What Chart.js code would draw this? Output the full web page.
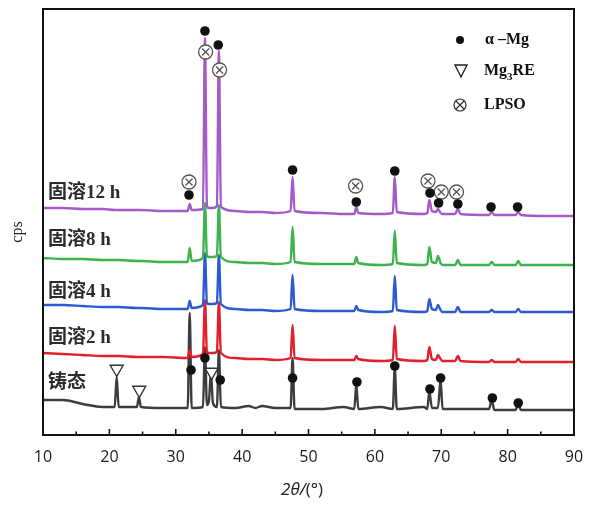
<!DOCTYPE html>
<html>
<head>
<meta charset="utf-8">
<script src="https://cdn.jsdelivr.net/npm/chart.js@4/dist/chart.umd.min.js"></script>
<style>
  html, body { margin: 0; padding: 0; background: #fff; }
  #wrap { width: 605px; height: 507px; }
</style>
</head>
<body>
<div id="wrap"><canvas id="xrd" width="605" height="507"></canvas></div>
<script>
// 2theta sampling points, shared by all curves
const twoTheta = [10, 13, 16, 19, 20.8, 21.1, 21.4, 24.15, 24.45, 24.75, 28, 31.8, 32.1, 32.4,
  34.1, 34.4, 34.7, 35.0, 35.3, 35.6, 36.2, 36.5, 36.8, 39, 41, 42, 43, 45, 47.3, 47.6, 47.9,
  52, 55.3, 56.9, 57.2, 57.5, 60.9, 62.7, 63.0, 63.3, 67.4, 67.9, 68.2, 68.6, 69.2, 69.5,
  69.9, 70.2, 72.1, 72.5, 72.9, 77.2, 77.6, 78.0, 81.2, 81.6, 82.0, 86, 90];

// intensities (cps, curves already offset as in the figure)
const h12 = [227, 227, 226, 226, 225, 225, 225, 225, 225, 225, 224, 224, 231, 225,
  226, 397, 229, 227, 227, 227, 229, 384, 228, 224, 223, 223, 223, 222, 224, 258, 224,
  222, 221, 221, 228, 222, 221, 222, 258, 223, 221, 222, 235, 224, 223, 226,
  222, 221, 221, 226, 221, 220, 223, 220, 220, 223, 220, 219, 219];
const h8 = [177, 176, 176, 175, 175, 175, 175, 174, 174, 174, 173, 173, 187, 174,
  177, 232, 179, 178, 178, 178, 179, 230, 178, 173, 172, 172, 172, 171, 173, 208, 173,
  171, 171, 171, 178, 172, 170, 171, 204, 172, 170, 171, 188, 173, 172, 179,
  172, 170, 170, 175, 170, 170, 173, 170, 170, 174, 170, 170, 170];
const h4 = [130, 130, 129, 128, 128, 128, 128, 127, 127, 127, 126, 126, 134, 127,
  130, 182, 132, 131, 131, 131, 132, 180, 131, 126, 125, 125, 125, 124, 126, 160, 126,
  124, 124, 124, 129, 125, 123, 124, 159, 125, 123, 124, 136, 126, 125, 130,
  125, 123, 123, 128, 123, 123, 125, 123, 123, 126, 123, 123, 123];
const h2 = [82, 81, 80, 79, 79, 79, 79, 78, 78, 78, 78, 77, 85, 78,
  81, 135, 83, 82, 82, 82, 83, 133, 82, 77, 76, 76, 76, 75, 77, 110, 77,
  75, 75, 75, 79, 76, 74, 75, 109, 76, 74, 75, 88, 76, 75, 80,
  76, 74, 74, 79, 74, 73, 75, 73, 73, 76, 73, 73, 73];
const asCast = [35, 35, 31, 28, 28, 58, 28, 28, 38, 28, 27, 27, 122, 27,
  28, 88, 30, 34, 63, 32, 28, 85, 28, 27, 29, 27, 29, 27, 27, 77, 26,
  26, 28, 26, 51, 26, 28, 26, 67, 26, 28, 26, 44, 27, 27, 27,
  55, 26, 26, 26, 26, 26, 35, 25, 25, 31, 25, 25, 25];

const seriesNames = ['固溶12 h', '固溶8 h', '固溶4 h', '固溶2 h', '铸态'];
const seriesColors = ['#a25bc9', '#3db34c', '#2c5bd0', '#e21f2a', '#3d3d3d'];
const seriesLabelY = [242, 195, 143, 97, 52];

// phase marks [2theta, cps]
const alphaMg = [[32.0, 240], [34.4, 404], [36.4, 390], [47.6, 265], [57.2, 233], [63.0, 264],
  [68.3, 242], [69.6, 232], [72.5, 231], [77.5, 228], [81.5, 228],
  [32.3, 65], [34.4, 77], [36.7, 55], [47.6, 57], [57.3, 53], [63.0, 69],
  [68.3, 46], [69.9, 57], [77.7, 37], [81.6, 32]];
const mg3re = [[21.1, 66], [24.5, 45], [35.4, 63]];
const lpso = [[32.0, 253], [34.5, 383], [36.6, 365], [57.1, 249], [68.0, 254], [70.0, 243], [72.3, 243]];

const xTicks = [10, 20, 30, 40, 50, 60, 70, 80, 90];
const xMinor = [15, 25, 35, 45, 55, 65, 75, 85];

const toPts = arr => arr.map(p => ({ x: p[0], y: p[1] }));
const curves = [h12, h8, h4, h2, asCast];

const datasets = curves.map((vals, k) => ({
  label: seriesNames[k],
  data: twoTheta.map((x, i) => ({ x: x, y: vals[i] })),
  showLine: true,
  borderColor: seriesColors[k],
  borderWidth: 2.4,
  pointRadius: 0,
  cubicInterpolationMode: 'monotone',
  order: 3 + k
}));

datasets.push({
  label: 'α-Mg', data: toPts(alphaMg), pointStyle: 'circle', pointRadius: 4.8,
  backgroundColor: '#111', borderColor: '#111', borderWidth: 0, order: 1, clip: false
});
datasets.push({
  label: 'Mg3RE', data: toPts(mg3re), pointStyle: 'triangle', rotation: 180, pointRadius: 7.5,
  backgroundColor: '#fff', borderColor: '#333', borderWidth: 1.4, order: 1, clip: false
});
datasets.push({
  label: 'LPSO', data: toPts(lpso), pointStyle: 'circle', pointRadius: 7,
  backgroundColor: '#fff', borderColor: '#555', borderWidth: 1.3, order: 2, clip: false
});
datasets.push({
  label: 'LPSO x', data: toPts(lpso), pointStyle: 'crossRot', pointRadius: 5,
  borderColor: '#555', borderWidth: 1.3, order: 1, clip: false
});

const decor = {
  id: 'decor',
  afterDraw(chart) {
    const ctx = chart.ctx;
    const a = chart.chartArea;
    const xs = chart.scales.x, ys = chart.scales.y;
    ctx.save();
    // frame
    ctx.strokeStyle = '#111';
    ctx.lineWidth = 2;
    ctx.strokeRect(a.left, a.top, a.right - a.left, a.bottom - a.top);
    // inward ticks
    ctx.lineWidth = 1.6;
    xTicks.forEach(v => {
      const px = xs.getPixelForValue(v);
      ctx.beginPath(); ctx.moveTo(px, a.bottom); ctx.lineTo(px, a.bottom - 6); ctx.stroke();
    });
    xMinor.forEach(v => {
      const px = xs.getPixelForValue(v);
      ctx.beginPath(); ctx.moveTo(px, a.bottom); ctx.lineTo(px, a.bottom - 3.5); ctx.stroke();
    });

    // curve labels
    ctx.fillStyle = '#2b2b2b';
    ctx.textBaseline = 'middle';
    ctx.textAlign = 'left';
    ctx.font = 'bold 19px "Liberation Serif", "Noto Sans CJK SC"';
    seriesNames.forEach((s, k) => {
      ctx.fillText(s, a.left + 5, ys.getPixelForValue(seriesLabelY[k]));
    });

    // legend
    const lx = 460, tx = 484;
    ctx.fillStyle = '#111';
    ctx.beginPath(); ctx.arc(lx, 40, 4, 0, Math.PI * 2); ctx.fill();
    ctx.font = 'bold 16px "Liberation Serif"';
    ctx.fillText('α –Mg', tx + 1, 40);

    ctx.strokeStyle = '#222';
    ctx.lineWidth = 1.4;
    ctx.beginPath(); ctx.moveTo(455, 65); ctx.lineTo(467, 65); ctx.lineTo(461, 77); ctx.closePath(); ctx.stroke();
    ctx.fillText('Mg', tx, 71);
    let w = ctx.measureText('Mg').width;
    ctx.font = 'bold 11px "Liberation Serif"';
    ctx.fillText('3', tx + w, 77);
    let w3 = ctx.measureText('3').width;
    ctx.font = 'bold 16px "Liberation Serif"';
    ctx.fillText('RE', tx + w + w3, 71);

    ctx.strokeStyle = '#333';
    ctx.lineWidth = 1.2;
    ctx.beginPath(); ctx.arc(lx, 105, 6, 0, Math.PI * 2); ctx.stroke();
    ctx.beginPath();
    ctx.moveTo(lx - 4, 101); ctx.lineTo(lx + 4, 109);
    ctx.moveTo(lx + 4, 101); ctx.lineTo(lx - 4, 109);
    ctx.stroke();
    ctx.fillText('LPSO', tx, 105);

    // y title
    ctx.save();
    ctx.translate(18, 232);
    ctx.rotate(-Math.PI / 2);
    ctx.textAlign = 'center';
    ctx.font = '16px "Liberation Serif"';
    ctx.fillStyle = '#222';
    ctx.fillText('cps', 0, 0);
    ctx.restore();

    // x title: 2θ/(°)
    ctx.font = 'italic 17px "Open Sans"';
    const p1 = '2θ/';
    const w1 = ctx.measureText(p1).width;
    ctx.font = '17px "Open Sans"';
    const w2 = ctx.measureText('(°)').width;
    const sx = 302 - (w1 + w2) / 2;
    ctx.fillStyle = '#222';
    ctx.font = 'italic 17px "Open Sans"';
    ctx.fillText(p1, sx, 490);
    ctx.font = '17px "Open Sans"';
    ctx.fillText('(°)', sx + w1, 490);
    ctx.restore();
  }
};

new Chart(document.getElementById('xrd'), {
  type: 'scatter',
  data: { datasets: datasets },
  options: {
    responsive: false,
    animation: false,
    events: [],
    layout: { padding: { left: 43, right: 31, top: 9, bottom: 0 } },
    plugins: { legend: { display: false }, tooltip: { enabled: false } },
    scales: {
      x: {
        type: 'linear', min: 10, max: 90,
        grid: { display: false, drawTicks: false },
        border: { display: false },
        ticks: { stepSize: 10, padding: 13, color: '#1a1a1a', font: { family: 'Open Sans', size: 16 } },
        afterFit: s => { s.height = 72; }
      },
      y: { display: false, min: 0, max: 426 }
    }
  },
  plugins: [decor]
});
</script>
</body>
</html>
